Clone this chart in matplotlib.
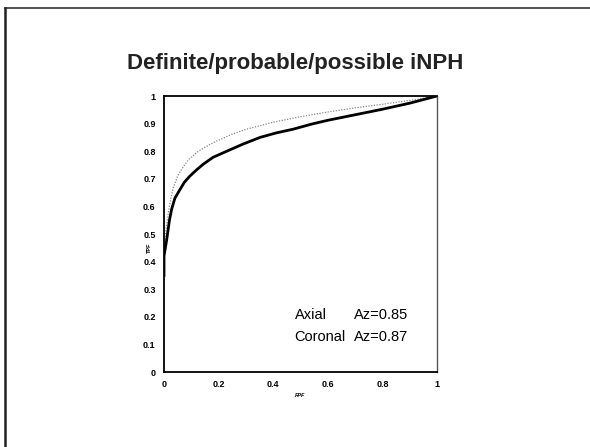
import matplotlib.pyplot as plt
from matplotlib.lines import Line2D

# ROC curves
fpf_axial = [0.0, 0.0, 0.01, 0.02, 0.028, 0.04, 0.059, 0.075, 0.095, 0.12, 0.144, 0.18, 0.23, 0.29,
             0.352, 0.41, 0.474, 0.54, 0.6, 0.7, 0.8, 0.9, 1.0]
tpf_axial = [0.35, 0.42, 0.48, 0.55, 0.59, 0.63, 0.662, 0.688, 0.71, 0.733, 0.753, 0.778, 0.80, 0.826,
             0.85, 0.866, 0.88, 0.898, 0.912, 0.932, 0.952, 0.974, 1.0]

fpf_coronal = [0.0, 0.005, 0.016, 0.025, 0.034, 0.05, 0.065, 0.09, 0.126, 0.16, 0.193, 0.25, 0.303,
               0.4, 0.5, 0.6, 0.7, 0.8, 0.9, 1.0]
tpf_coronal = [0.45, 0.5, 0.577, 0.63, 0.668, 0.71, 0.735, 0.77, 0.80, 0.82, 0.837, 0.862, 0.88,
               0.905, 0.925, 0.942, 0.957, 0.97, 0.984, 1.0]

ticks = [0, 0.2, 0.4, 0.6, 0.8, 1]
yticks = [0, 0.1, 0.2, 0.3, 0.4, 0.5, 0.6, 0.7, 0.8, 0.9, 1]

plt.rcParams['font.family'] = ['Liberation Sans', 'DejaVu Sans']

fig = plt.figure(figsize=(5.9, 4.47), dpi=100)
W, H = 590, 447

# slide frame (top and left edges)
fig.add_artist(Line2D([5 / W, 1], [1 - 8 / H, 1 - 8 / H], color='#444444', lw=1.3))
fig.add_artist(Line2D([5 / W, 5 / W], [0, 1 - 8 / H], color='#222222', lw=1.8))

fig.text(295 / W, 1 - 64 / H, "Definite/probable/possible iNPH", ha='center', va='center',
         fontsize=16, fontweight='bold', color='#222222')

ax = fig.add_axes([164 / W, 1 - 372 / H, 273 / W, 276 / H])
ax.plot(fpf_coronal, tpf_coronal, color='#888888', lw=0.9, linestyle=(0, (1, 1.2)))
ax.plot(fpf_axial, tpf_axial, color='black', lw=2.0)

ax.set_xlim(0, 1)
ax.set_ylim(0, 1)
ax.set_xticks(ticks)
ax.set_xticklabels(["0", "0.2", "0.4", "0.6", "0.8", "1"])
ax.set_yticks(yticks)
ax.set_yticklabels(["0", "0.1", "0.2", "0.3", "0.4", "0.5", "0.6", "0.7", "0.8", "0.9", "1"])
ax.tick_params(length=0, labelsize=6.5, pad=6)
for lab in ax.get_xticklabels() + ax.get_yticklabels():
    lab.set_fontweight('bold')
for s in ax.spines.values():
    s.set_linewidth(1.3)
ax.spines['right'].set_color('#555555')
ax.spines['right'].set_linewidth(1.0)

ax.set_xlabel("FPF", fontsize=4, fontstyle='italic', fontweight='bold')
ax.xaxis.set_label_coords(0.5, -0.075)
ax.set_ylabel("TPF", fontsize=4, fontweight='bold')
ax.yaxis.set_label_coords(-0.045, 0.45)

ax.text(0.478, 0.207, "Axial", transform=ax.transAxes, fontsize=10.5, va='center')
ax.text(0.695, 0.207, "Az=0.85", transform=ax.transAxes, fontsize=10.5, va='center')
ax.text(0.478, 0.127, "Coronal", transform=ax.transAxes, fontsize=10.5, va='center')
ax.text(0.695, 0.127, "Az=0.87", transform=ax.transAxes, fontsize=10.5, va='center')

fig.savefig("out.png", dpi=100)
